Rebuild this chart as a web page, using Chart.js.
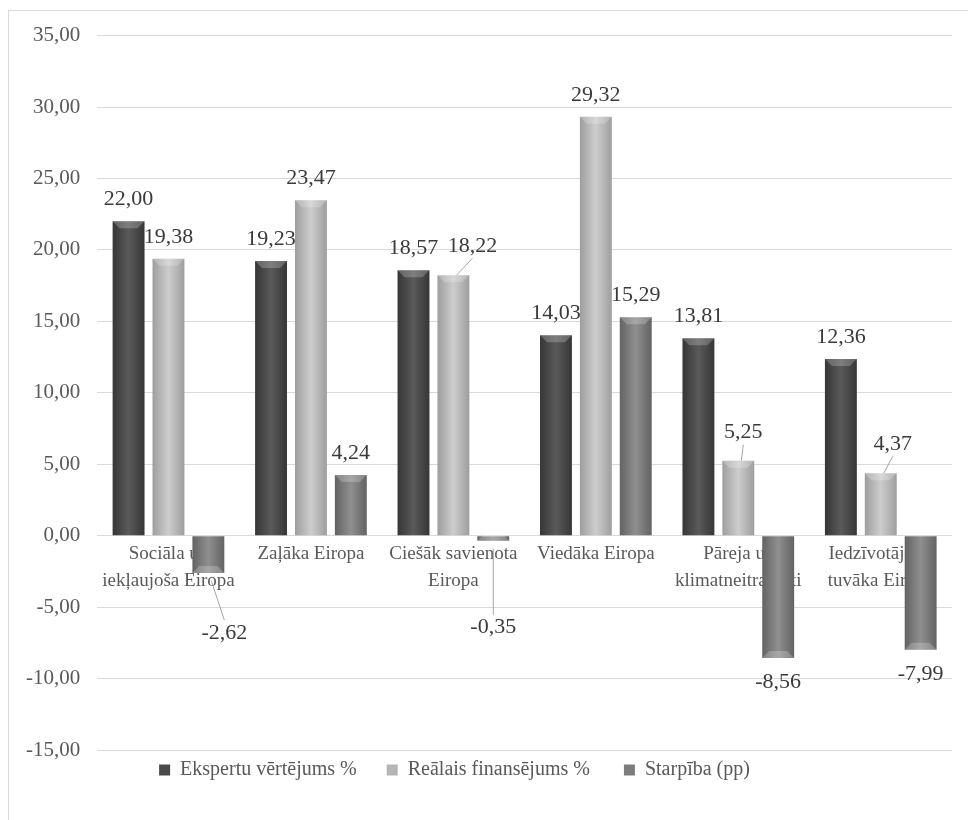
<!DOCTYPE html>
<html>
<head>
<meta charset="utf-8">
<script src="https://cdn.jsdelivr.net/npm/chart.js@4.4.0/dist/chart.umd.min.js"></script>
<style>
  html, body { margin: 0; padding: 0; background: #fff; overflow: hidden; }
  #wrap {
    position: absolute; left: 8px; top: 10px;
    width: 960px; height: 810px;
    border-left: 1px solid #d9d9d9; border-top: 1px solid #d9d9d9;
  }
  #chart { display: block; margin-top: -5px; }
</style>
</head>
<body>
<div id="wrap"><canvas id="chart" width="959" height="814"></canvas></div>
<script>
const categories = [
  ['Sociāla un', 'iekļaujoša Eiropa'],
  'Zaļāka Eiropa',
  ['Ciešāk savienota', 'Eiropa'],
  'Viedāka Eiropa',
  ['Pāreja uz', 'klimatneitralitāti'],
  ['Iedzīvotājiem', 'tuvāka Eiropa']
];
const seriesNames = ['Ekspertu vērtējums %', 'Reālais finansējums %', 'Starpība (pp)'];
const expertValues = [22.00, 19.23, 18.57, 14.03, 13.81, 12.36];
const fundingValues = [19.38, 23.47, 18.22, 29.32, 5.25, 4.37];
const diffValues = [-2.62, 4.24, -0.35, 15.29, -8.56, -7.99];

const Y_MIN = -15, Y_MAX = 35, Y_STEP = 5;
const CAT_PCT = 0.84, BAR_PCT = 0.8;

Chart.defaults.font.family = '"Liberation Serif", "Times New Roman", serif';

// edge / centre shades for the cylinder look
const shades = [
  { edge: '#363636', mid: '#5a5a5a', solid: '#4a4a4a' },
  { edge: '#9e9e9e', mid: '#cdcdcd', solid: '#b5b5b5' },
  { edge: '#636363', mid: '#8f8f8f', solid: '#7d7d7d' }
];

// extra room after each legend entry (Excel spaces them wider)
const legendGap = ['\u2003', '\u2003\u2009', '\u2003\u2003\u2009\u2009\u2009'];

// labels Excel moved aside (dataset:index -> [dx, dy])
const labelNudge = {
  '0:2': [16, 36],
  '2:1': [19, -7],
  '2:2': [0, 63],
  '4:1': [5, -6],
  '5:1': [12, -7]
};

const fmt = v => v.toFixed(2).replace('.', ',');

function barGradient(ctx, dsIndex) {
  const chart = ctx.chart;
  const xs = chart.scales.x;
  if (!chart.chartArea || !xs) return shades[dsIndex].solid;
  const catW = xs.width / categories.length;
  const slot = catW * CAT_PCT / 3;
  const cx = xs.getPixelForValue(ctx.dataIndex) + (dsIndex - 1) * slot;
  const half = slot * BAR_PCT / 2;
  const g = chart.ctx.createLinearGradient(cx - half, 0, cx + half, 0);
  const s = shades[dsIndex];
  g.addColorStop(0, s.edge);
  g.addColorStop(0.5, s.mid);
  g.addColorStop(1, s.edge);
  return g;
}

const valueLabels = {
  id: 'valueLabels',
  afterDatasetsDraw(chart) {
    const c = chart.ctx;
    c.save();
    chart.data.datasets.forEach((ds, di) => {
      const meta = chart.getDatasetMeta(di);
      meta.data.forEach((bar, i) => {
        const v = ds.data[i];
        // bevel at bar end
        const half = bar.width / 2;
        const bev = 7;
        const dir = v >= 0 ? 1 : -1;
        c.fillStyle = 'rgba(255,255,255,0.22)';
        c.beginPath();
        c.moveTo(bar.x - half, bar.y);
        c.lineTo(bar.x + half, bar.y);
        c.lineTo(bar.x + half - bev, bar.y + dir * bev);
        c.lineTo(bar.x - half + bev, bar.y + dir * bev);
        c.closePath();
        c.fill();

        const key = i + ':' + di;
        const nudge = labelNudge[key] || [0, 0];
        const baseY = v >= 0 ? bar.y - 22 : bar.y + 24;
        const lx = bar.x + nudge[0];
        const ly = baseY + nudge[1];
        if (labelNudge[key]) {
          c.strokeStyle = '#a6a6a6';
          c.lineWidth = 1;
          c.beginPath();
          const fromY = v >= 0 ? bar.y : bar.y + 8;
          const toY = v >= 0 ? ly + 12 : ly - 13;
          c.moveTo(bar.x + Math.sign(nudge[0]) * 3, fromY);
          c.lineTo(lx, toY);
          c.stroke();
        }
        c.fillStyle = '#3a3a3a';
        c.font = '22px "Liberation Serif", "Times New Roman", serif';
        c.textAlign = 'center';
        c.textBaseline = 'middle';
        c.fillText(fmt(v), lx, ly);
      });
    });
    c.restore();
  }
};

const datasets = [expertValues, fundingValues, diffValues].map((vals, di) => ({
  label: seriesNames[di],
  data: vals,
  backgroundColor: ctx => barGradient(ctx, di),
  borderWidth: 0,
  categoryPercentage: CAT_PCT,
  barPercentage: BAR_PCT
}));

new Chart(document.getElementById('chart'), {
  type: 'bar',
  data: { labels: categories, datasets },
  options: {
    responsive: false,
    animation: false,
    layout: { autoPadding: false, padding: { left: 0, top: 18, right: 16, bottom: 30 } },
    plugins: {
      tooltip: { enabled: false },
      legend: {
        position: 'bottom',
        labels: {
          color: '#595959',
          font: { size: 20 },
          boxWidth: 11,
          boxHeight: 11,
          padding: 10,
          generateLabels(chart) {
            return chart.data.datasets.map((ds, i) => ({
              text: ds.label + legendGap[i],
              fillStyle: shades[i].solid,
              strokeStyle: shades[i].solid,
              lineWidth: 0,
              fontColor: '#595959',
              datasetIndex: i
            }));
          }
        }
      }
    },
    scales: {
      x: {
        position: { y: 0 },
        grid: { display: false },
        border: { display: false },
        ticks: {
          color: '#595959',
          font: { size: 19, lineHeight: 1.4 },
          padding: -3,
          maxRotation: 0,
          autoSkip: false
        }
      },
      y: {
        min: Y_MIN,
        max: Y_MAX,
        grid: { color: '#d9d9d9', lineWidth: 1, drawTicks: false },
        border: { display: false },
        ticks: {
          stepSize: Y_STEP,
          color: '#595959',
          font: { size: 21 },
          padding: 17,
          callback: v => fmt(v)
        }
      }
    }
  },
  plugins: [valueLabels]
});
</script>
</body>
</html>
